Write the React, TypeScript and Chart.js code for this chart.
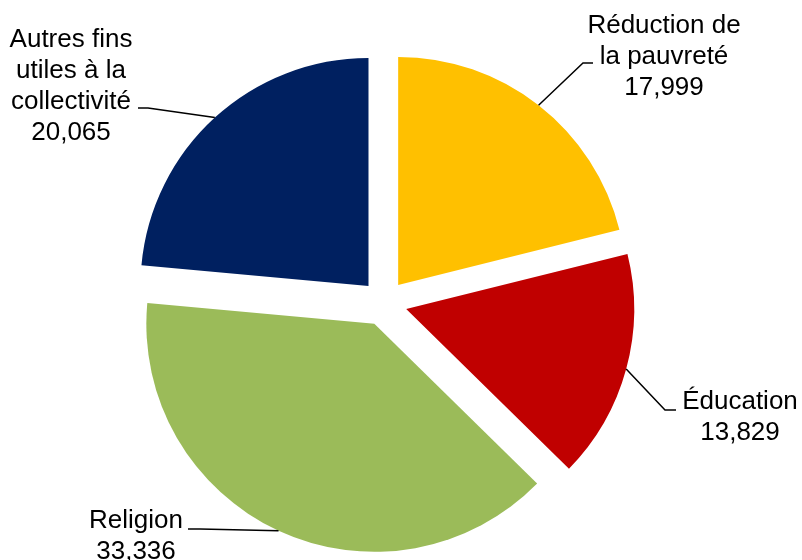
import React, { useEffect, useRef } from "react";
import { Chart, registerables } from "chart.js";

Chart.register(...registerables);

const categories = [
  "Réduction de la pauvreté",
  "Éducation",
  "Religion",
  "Autres fins utiles à la collectivité",
];
const labelLines = [
  ["Réduction de", "la pauvreté"],
  ["Éducation"],
  ["Religion"],
  ["Autres fins", "utiles à la", "collectivité"],
];
const values = [17999, 13829, 33336, 20065];
const colors = ["#FFC000", "#C00000", "#9BBB59", "#002060"];

// label placement relative to pie centre (px)
const labelLayout = [
  { elbow: [199, -240], end: [209, -240], textX: 280, textY: -270 },
  { elbow: [281, 107], end: [292, 107], textX: 356, textY: 106 },
  { elbow: [-184, 226], end: [-196, 226], textX: -248, textY: 225 },
  { elbow: [-236, -195], end: [-246, -195], textX: -313, textY: -256 },
];

const EXPLODE = 23;
const RADIUS = 228;
const FONT = '26px "Liberation Sans", Arial, sans-serif';
const LINE_H = 31;

const explodePlugin = {
  id: "explodePie",
  beforeDatasetDraw(chart: any, args: any) {
    const ctx = chart.ctx;
    const meta = chart.getDatasetMeta(args.index);
    meta.data.forEach((arc: any) => {
      const mid = (arc.startAngle + arc.endAngle) / 2;
      ctx.save();
      ctx.translate(Math.cos(mid) * EXPLODE, Math.sin(mid) * EXPLODE);
      arc.draw(ctx);
      ctx.restore();
    });
    return false;
  },
};

const labelPlugin = {
  id: "pieLabels",
  afterDatasetsDraw(chart: any) {
    const ctx = chart.ctx;
    const meta = chart.getDatasetMeta(0);
    ctx.save();
    meta.data.forEach((arc: any, i: number) => {
      const mid = (arc.startAngle + arc.endAngle) / 2;
      const cx = arc.x;
      const cy = arc.y;
      const r = arc.outerRadius;
      const ax = cx + Math.cos(mid) * (EXPLODE + r);
      const ay = cy + Math.sin(mid) * (EXPLODE + r);
      const L = labelLayout[i];
      ctx.strokeStyle = "#000";
      ctx.lineWidth = 1.5;
      ctx.beginPath();
      ctx.moveTo(ax, ay);
      ctx.lineTo(cx + L.elbow[0], cy + L.elbow[1]);
      ctx.lineTo(cx + L.end[0], cy + L.end[1]);
      ctx.stroke();
      const lines = [...labelLines[i], values[i].toLocaleString("en-US")];
      ctx.fillStyle = "#000";
      ctx.font = FONT;
      ctx.textAlign = "center";
      ctx.textBaseline = "alphabetic";
      lines.forEach((t, k) => {
        ctx.fillText(t, cx + L.textX, cy + L.textY + k * LINE_H);
      });
    });
    ctx.restore();
  },
};

export default function App() {
  const ref = useRef<HTMLCanvasElement>(null);
  useEffect(() => {
    if (!ref.current) return;
    const chart = new Chart(ref.current, {
      type: "pie",
      data: {
        labels: categories,
        datasets: [
          {
            data: values,
            backgroundColor: colors,
            borderWidth: 0,
            radius: RADIUS,
            clip: false,
          } as any,
        ],
      },
      options: {
        responsive: false,
        animation: false,
        events: [],
        layout: { padding: { left: 0, right: 34, top: 46, bottom: 0 } },
        plugins: {
          legend: { display: false },
          tooltip: { enabled: false },
        },
      },
      plugins: [explodePlugin, labelPlugin],
    });
    return () => chart.destroy();
  }, []);
  return (
    <div style={{ position: "absolute", left: 0, top: 0, width: 802, height: 560, background: "#fff" }}>
      <canvas ref={ref} width={802} height={560} />
    </div>
  );
}
